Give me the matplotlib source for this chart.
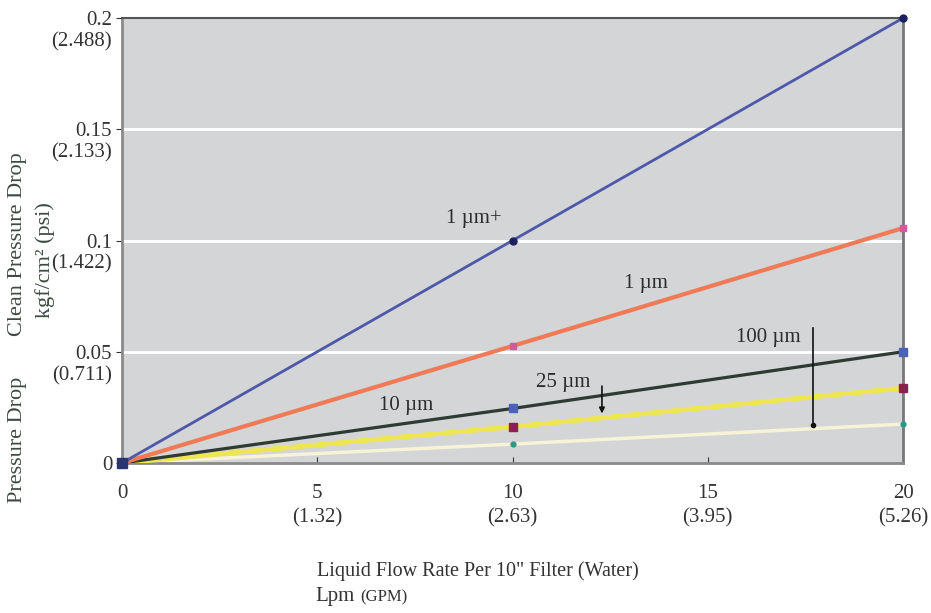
import matplotlib
matplotlib.use("Agg")
import matplotlib.pyplot as plt
import matplotlib.transforms as mtransforms

plt.rcParams['font.family'] = ['Liberation Serif', 'DejaVu Serif']

# ---- data ----
flow = [0, 10, 20]
series_names = ["1 µm+", "1 µm", "10 µm", "25 µm", "100 µm"]
drop_1plus = [0, 0.100, 0.200]
drop_1 = [0, 0.0526, 0.1056]
drop_10 = [0, 0.0245, 0.0500]
drop_25 = [0, 0.0163, 0.0337]
drop_100 = [0, 0.0085, 0.0175]

xticks = [0, 5, 10, 15, 20]
xtick_labels = ["0", "5\n(1.32)", "10\n(2.63)", "15\n(3.95)", "20\n(5.26)"]
yticks = [0, 0.05, 0.1, 0.15, 0.2]
ytick_labels = ["0", "0.05\n(0.711)", "0.1\n(1.422)", "0.15\n(2.133)", "0.2\n(2.488)"]

fig = plt.figure(figsize=(9.31, 6.13), dpi=100)
ax = fig.add_axes([0.131, 0.2447, 0.839, 0.7259])
ax.set_facecolor('#d4d5d7')

# white grid lines
for g in [0.05, 0.1, 0.15]:
    ax.axhline(g, color='white', lw=2, zorder=1)

# lines (bottom to top)
ax.plot(flow, drop_100, color='#f6f3d6', lw=2.5, zorder=2)
ax.plot(flow, drop_25, color='#eee552', lw=3.5, zorder=3)
ax.plot(flow, drop_10, color='#2f3a32', lw=2.3, zorder=4)
ax.plot(flow, drop_1, color='#ef7a55', lw=3, zorder=4)
ax.plot(flow, drop_1plus, color='#4e58a8', lw=2, zorder=4)

# markers at data points
ax.plot(flow[1:], drop_1plus[1:], 'o', color='#1c2060', ms=5, zorder=6, clip_on=False)
ax.plot(flow[1:], drop_1[1:], 's', color='#d05a9a', ms=4, zorder=6, clip_on=False)
ax.plot(flow[1:], drop_10[1:], 's', color='#4a62b8', ms=6, zorder=6, clip_on=False)
ax.plot(flow[1:], drop_25[1:], 's', color='#8a2050', ms=6, zorder=6, clip_on=False)
ax.plot(flow[1:], drop_100[1:], 'o', color='#2a9a88', ms=3.5, zorder=6, clip_on=False)
ax.plot([flow[0]], [drop_1plus[0]], 's', color='#2a3570', ms=7, zorder=7, clip_on=False)

ax.set_xlim(0, 20)
ax.set_ylim(0, 0.2)

# annotations
tc = '#2c2c2c'
fs_ann = 15
ax.text(9.0, 0.110, series_names[0], fontsize=fs_ann, color=tc, ha='center', va='center')
ax.text(13.42, 0.0808, series_names[1], fontsize=fs_ann, color=tc, ha='center', va='center')
ax.text(7.27, 0.0260, series_names[2], fontsize=fs_ann, color=tc, ha='center', va='center')
ax.text(11.29, 0.0364, series_names[3], fontsize=fs_ann, color=tc, ha='center', va='center')
ax.text(16.54, 0.0566, series_names[4], fontsize=fs_ann, color=tc, ha='center', va='center')
ax.annotate('', xy=(12.29, 0.0210), xytext=(12.29, 0.0358),
            arrowprops=dict(arrowstyle='-|>', color='#111111', lw=1.2, mutation_scale=8), zorder=8)
ax.plot([17.7, 17.7], [0.0607, 0.0172], color='#111111', lw=1.2, zorder=8)
ax.plot([17.7], [0.0172], 'o', color='#111111', ms=3, zorder=8)

# ticks
ax.set_xticks(xticks)
ax.set_xticklabels(xtick_labels, fontsize=15, color='#333333', linespacing=1.4)
ax.set_yticks(yticks)
ax.set_yticklabels(ytick_labels, fontsize=15, color='#333333', linespacing=1.15, ha='right')
ax.tick_params(axis='x', direction='in', length=4, pad=15, color='#333333')
ax.tick_params(axis='y', direction='out', length=4, pad=3, color='#333333')
offset = mtransforms.ScaledTranslation(0, 5.0 / 72, fig.dpi_scale_trans)
for lbl in ax.get_yticklabels():
    lbl.set_va('top')
    lbl.set_multialignment('right')
    lbl.set_transform(lbl.get_transform() + offset)
for lbl in ax.get_xticklabels():
    lbl.set_multialignment('center')

# spines
ax.spines['top'].set_color('#555555')
ax.spines['top'].set_linewidth(1.5)
ax.spines['right'].set_color('#777777')
ax.spines['right'].set_linewidth(2)
ax.spines['left'].set_color('#8a8a8a')
ax.spines['left'].set_linewidth(2)
ax.spines['bottom'].set_color('#8a8a8a')
ax.spines['bottom'].set_linewidth(2)

# axis labels
lc = '#3e4a40'
fig.text(18 / 931, 1 - 244 / 613, "Clean Pressure Drop", rotation=90, fontsize=16,
         color=lc, ha='center', va='center')
fig.text(45 / 931, 1 - 260 / 613, "kgf/cm² (psi)", rotation=90, fontsize=16,
         color=lc, ha='center', va='center')
fig.text(18 / 931, 1 - 440 / 613, "Pressure Drop", rotation=90, fontsize=16,
         color=lc, ha='center', va='center')
fig.text(478 / 931, 1 - 571 / 613, 'Liquid Flow Rate Per 10" Filter (Water)', fontsize=14.5,
         color='#333333', ha='center', va='center')
fig.text(315 / 931, 1 - 597 / 613, "Lpm", fontsize=15, color='#333333', ha='left', va='center')
fig.text(360 / 931, 1 - 597 / 613, "(GPM)", fontsize=12, color='#333333', ha='left', va='center')

fig.savefig("out.png", dpi=100)
